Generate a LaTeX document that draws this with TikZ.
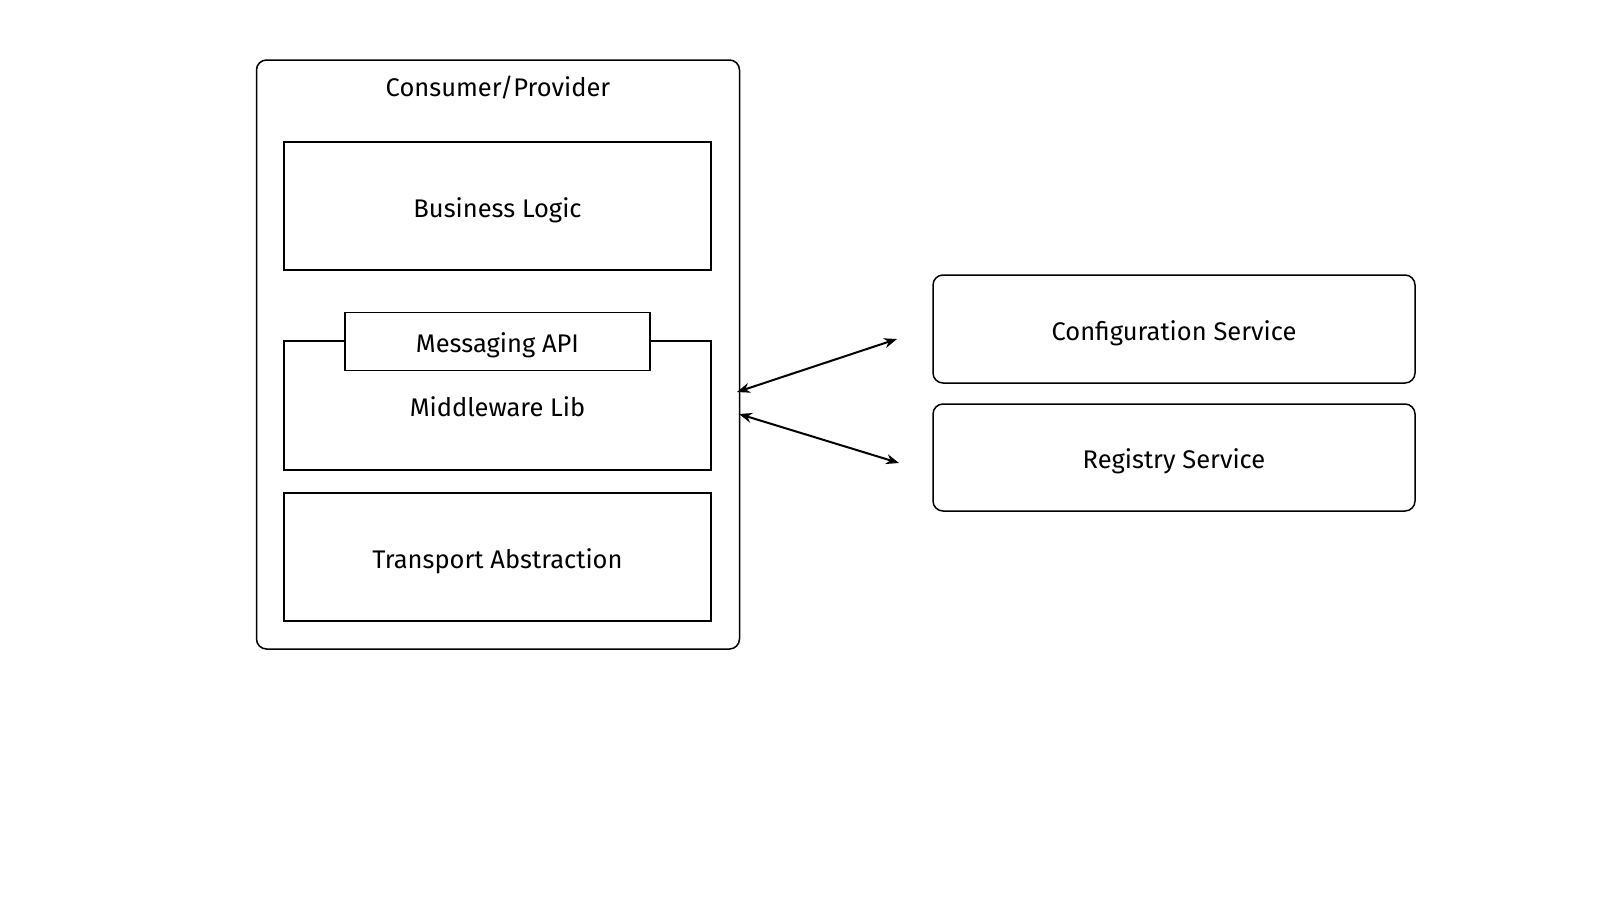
\documentclass[tikz,border=0pt]{standalone}
\usepackage{fontspec}
\setmainfont{Fira Sans}
\usetikzlibrary{arrows.meta}
\begin{document}
\begin{tikzpicture}[x=1pt,y=-1pt,
  every node/.style={font=\fontsize{25.5}{30}\selectfont, inner sep=0pt, text height=24pt, text depth=1.5pt},
  layer/.style={draw, line width=1.5pt},
  rbox/.style={draw, line width=1.5pt, rounded corners=10pt},
  link/.style={line width=2pt, {Stealth[length=13pt,width=10pt]}-{Stealth[length=13pt,width=10pt]}}]
\useasboundingbox (0,0) rectangle (1600,900);
% outer container
\node[rbox, minimum width=483pt, minimum height=589pt] (outer) at (498,354.5) {};
\node (title) at (498,85) {Consumer/Provider};
% layers
\node[layer, minimum width=427pt, minimum height=128pt] (bl) at (497.5,206) {Business Logic};
\node[layer, minimum width=427pt, minimum height=129pt] (mw) at (497.5,405.5) {};
\node[layer, fill=white, minimum width=305pt, minimum height=58pt] (api) at (497.5,341.5) {Messaging API};
\node (mwl) at (497.5,405) {Middleware Lib};
\node[layer, minimum width=427pt, minimum height=128pt] (tr) at (497.5,557) {Transport Abstraction};
% services
\node[rbox, minimum width=482pt, minimum height=108pt] (cfg) at (1174,329) {Configuration Service};
\node[rbox, minimum width=482pt, minimum height=107pt] (reg) at (1174,457.5) {Registry Service};
% connectors
\coordinate (a1) at (737,392);
\coordinate (a2) at (897,339);
\coordinate (b1) at (739,414);
\coordinate (b2) at (899,463);
\draw[link] (a1) -- (a2);
\draw[link] (b1) -- (b2);
\end{tikzpicture}
\end{document}
